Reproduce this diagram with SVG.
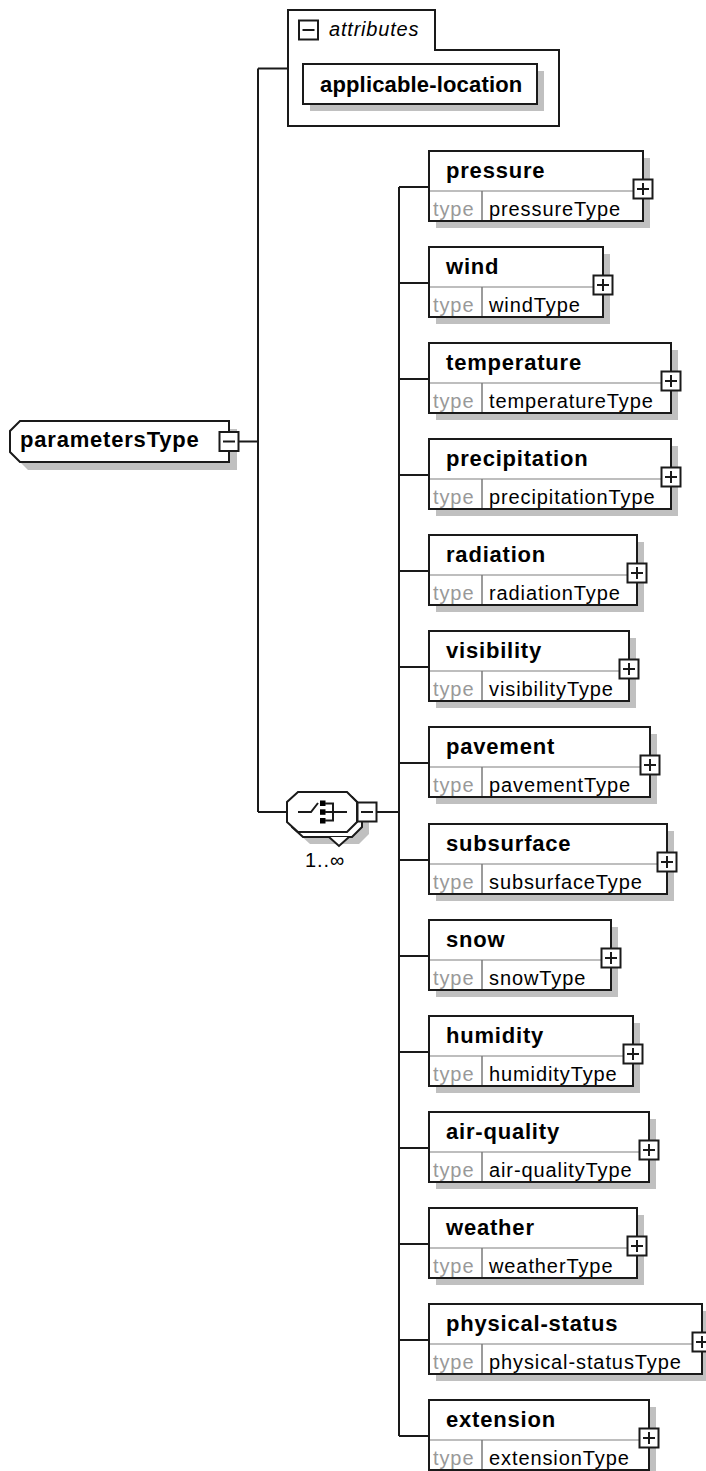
<svg xmlns="http://www.w3.org/2000/svg" width="706" height="1471" viewBox="0 0 706 1471">
<style>
.sh{fill:#c0c0c0;stroke:none}
.bx{fill:#fff;stroke:#1a1a1a;stroke-width:2}
.dh{stroke:#a8a8a8;stroke-width:1.5}
.dv{stroke:#7a7a7a;stroke-width:1.5}
.ln{stroke:#1a1a1a;stroke-width:2;fill:none}
.pm{fill:#fff;stroke:#1a1a1a;stroke-width:2}
.nm{font-family:"Liberation Sans",Arial,sans-serif;font-weight:bold;font-size:22px;letter-spacing:0.8px;fill:#000}
.tl{font-family:"Liberation Sans",Arial,sans-serif;font-size:20px;letter-spacing:0.9px;fill:#999}
.tn{font-family:"Liberation Sans",Arial,sans-serif;font-size:20px;letter-spacing:0.9px;fill:#000}
.it{font-family:"Liberation Sans",Arial,sans-serif;font-style:italic;font-size:20px;letter-spacing:0.8px;fill:#000}
</style>
<defs>
<g id="plus"><rect class="pm" x="-9.5" y="-9.5" width="19" height="19"/><path class="ln" d="M-6,0H6M0,-6V6"/></g>
<g id="minus"><rect class="pm" x="-9.5" y="-9.5" width="19" height="19"/><path class="ln" d="M-6,0H6"/></g>
</defs>

<g id="connectors">
<path class="ln" d="M239,441.5H258M258,68.5V812M258,68.5H288M258,812H287"/>
<path class="ln" d="M377,812H399M399,187V1436"/>
<path class="ln" d="M399,187H429M399,283H429M399,379H429M399,475H429M399,571H429M399,667H429M399,763H429M399,860H429M399,956H429M399,1052H429M399,1148H429M399,1244H429M399,1340H429M399,1436H429"/>
</g>

<g id="parametersType">
<polygon class="sh" points="28,429 237,429 237,470 28,470 18,460 18,439"/>
<polygon class="bx" points="20,421 229,421 229,462 20,462 10,452 10,431"/>
<text class="nm" x="20" y="447">parametersType</text>
<use href="#minus" x="229" y="441.5"/>
</g>

<g id="attributes">
<path class="bx" d="M288,10H435V50H559V126H288Z"/>
<use href="#minus" x="308.5" y="30"/>
<text class="it" x="329" y="36">attributes</text>
</g>

<g id="applicable-location">
<rect class="sh" x="310" y="71" width="234" height="40"/>
<rect class="bx" x="303" y="64" width="234" height="40"/>
<text class="nm" x="320" y="92" textLength="203" lengthAdjust="spacing">applicable-location</text>
</g>

<g id="choice">
<polygon class="sh" points="310,804 359,804 369,814 369,834 359,844 310,844 299,834 299,814"/>
<polygon class="bx" points="303,797 352,797 362,807 362,827 352,837 303,837 292,827 292,807"/>
<polyline class="bx" points="329,837 339,846 349,837"/>
<polygon class="bx" points="298,792 347,792 357,802 357,822 347,832 298,832 287,822 287,802"/>
<path class="ln" d="M298,812H311L318,803"/>
<rect x="320" y="800.5" width="5.5" height="5.5" fill="#000"/>
<rect x="320" y="809.3" width="5.5" height="5.5" fill="#000"/>
<rect x="320" y="818" width="5.5" height="5.5" fill="#000"/>
<path class="ln" stroke-width="1.6" d="M325,803.5H333V820.5H325M325,812H347"/>
<use href="#minus" x="367" y="812"/>
<text class="tn" x="305" y="867">1..∞</text>
</g>

<g id="pressure" transform="translate(429,151)">
<rect class="sh" x="7" y="7" width="214" height="70"/><rect class="bx" width="214" height="70"/>
<path class="dh" d="M1,40H213"/><path class="dv" d="M53,40V69"/>
<text class="nm" x="17" y="27">pressure</text><text class="tl" x="4" y="64.5">type</text><text class="tn" x="60" y="64.5">pressureType</text>
<use href="#plus" x="214" y="38"/>
</g>
<g id="wind" transform="translate(429,247)">
<rect class="sh" x="7" y="7" width="174" height="70"/><rect class="bx" width="174" height="70"/>
<path class="dh" d="M1,40H173"/><path class="dv" d="M53,40V69"/>
<text class="nm" x="17" y="27">wind</text><text class="tl" x="4" y="64.5">type</text><text class="tn" x="60" y="64.5">windType</text>
<use href="#plus" x="174" y="38"/>
</g>
<g id="temperature" transform="translate(429,343)">
<rect class="sh" x="7" y="7" width="242" height="70"/><rect class="bx" width="242" height="70"/>
<path class="dh" d="M1,40H241"/><path class="dv" d="M53,40V69"/>
<text class="nm" x="17" y="27">temperature</text><text class="tl" x="4" y="64.5">type</text><text class="tn" x="60" y="64.5">temperatureType</text>
<use href="#plus" x="242" y="38"/>
</g>
<g id="precipitation" transform="translate(429,439)">
<rect class="sh" x="7" y="7" width="242" height="70"/><rect class="bx" width="242" height="70"/>
<path class="dh" d="M1,40H241"/><path class="dv" d="M53,40V69"/>
<text class="nm" x="17" y="27">precipitation</text><text class="tl" x="4" y="64.5">type</text><text class="tn" x="60" y="64.5">precipitationType</text>
<use href="#plus" x="242" y="38"/>
</g>
<g id="radiation" transform="translate(429,535)">
<rect class="sh" x="7" y="7" width="208" height="70"/><rect class="bx" width="208" height="70"/>
<path class="dh" d="M1,40H207"/><path class="dv" d="M53,40V69"/>
<text class="nm" x="17" y="27">radiation</text><text class="tl" x="4" y="64.5">type</text><text class="tn" x="60" y="64.5">radiationType</text>
<use href="#plus" x="208" y="38"/>
</g>
<g id="visibility" transform="translate(429,631)">
<rect class="sh" x="7" y="7" width="200" height="70"/><rect class="bx" width="200" height="70"/>
<path class="dh" d="M1,40H199"/><path class="dv" d="M53,40V69"/>
<text class="nm" x="17" y="27">visibility</text><text class="tl" x="4" y="64.5">type</text><text class="tn" x="60" y="64.5">visibilityType</text>
<use href="#plus" x="200" y="38"/>
</g>
<g id="pavement" transform="translate(429,727)">
<rect class="sh" x="7" y="7" width="221" height="70"/><rect class="bx" width="221" height="70"/>
<path class="dh" d="M1,40H220"/><path class="dv" d="M53,40V69"/>
<text class="nm" x="17" y="27">pavement</text><text class="tl" x="4" y="64.5">type</text><text class="tn" x="60" y="64.5">pavementType</text>
<use href="#plus" x="221" y="38"/>
</g>
<g id="subsurface" transform="translate(429,824)">
<rect class="sh" x="7" y="7" width="238" height="70"/><rect class="bx" width="238" height="70"/>
<path class="dh" d="M1,40H237"/><path class="dv" d="M53,40V69"/>
<text class="nm" x="17" y="27">subsurface</text><text class="tl" x="4" y="64.5">type</text><text class="tn" x="60" y="64.5">subsurfaceType</text>
<use href="#plus" x="238" y="38"/>
</g>
<g id="snow" transform="translate(429,920)">
<rect class="sh" x="7" y="7" width="182" height="70"/><rect class="bx" width="182" height="70"/>
<path class="dh" d="M1,40H181"/><path class="dv" d="M53,40V69"/>
<text class="nm" x="17" y="27">snow</text><text class="tl" x="4" y="64.5">type</text><text class="tn" x="60" y="64.5">snowType</text>
<use href="#plus" x="182" y="38"/>
</g>
<g id="humidity" transform="translate(429,1016)">
<rect class="sh" x="7" y="7" width="204" height="70"/><rect class="bx" width="204" height="70"/>
<path class="dh" d="M1,40H203"/><path class="dv" d="M53,40V69"/>
<text class="nm" x="17" y="27">humidity</text><text class="tl" x="4" y="64.5">type</text><text class="tn" x="60" y="64.5">humidityType</text>
<use href="#plus" x="204" y="38"/>
</g>
<g id="air-quality" transform="translate(429,1112)">
<rect class="sh" x="7" y="7" width="220" height="70"/><rect class="bx" width="220" height="70"/>
<path class="dh" d="M1,40H219"/><path class="dv" d="M53,40V69"/>
<text class="nm" x="17" y="27">air-quality</text><text class="tl" x="4" y="64.5">type</text><text class="tn" x="60" y="64.5">air-qualityType</text>
<use href="#plus" x="220" y="38"/>
</g>
<g id="weather" transform="translate(429,1208)">
<rect class="sh" x="7" y="7" width="208" height="70"/><rect class="bx" width="208" height="70"/>
<path class="dh" d="M1,40H207"/><path class="dv" d="M53,40V69"/>
<text class="nm" x="17" y="27">weather</text><text class="tl" x="4" y="64.5">type</text><text class="tn" x="60" y="64.5">weatherType</text>
<use href="#plus" x="208" y="38"/>
</g>
<g id="physical-status" transform="translate(429,1304)">
<rect class="sh" x="7" y="7" width="273" height="70"/><rect class="bx" width="273" height="70"/>
<path class="dh" d="M1,40H272"/><path class="dv" d="M53,40V69"/>
<text class="nm" x="17" y="27">physical-status</text><text class="tl" x="4" y="64.5">type</text><text class="tn" x="60" y="64.5">physical-statusType</text>
<use href="#plus" x="273" y="38"/>
</g>
<g id="extension" transform="translate(429,1400)">
<rect class="sh" x="7" y="7" width="220" height="70"/><rect class="bx" width="220" height="70"/>
<path class="dh" d="M1,40H219"/><path class="dv" d="M53,40V69"/>
<text class="nm" x="17" y="27">extension</text><text class="tl" x="4" y="64.5">type</text><text class="tn" x="60" y="64.5">extensionType</text>
<use href="#plus" x="220" y="38"/>
</g>
</svg>
